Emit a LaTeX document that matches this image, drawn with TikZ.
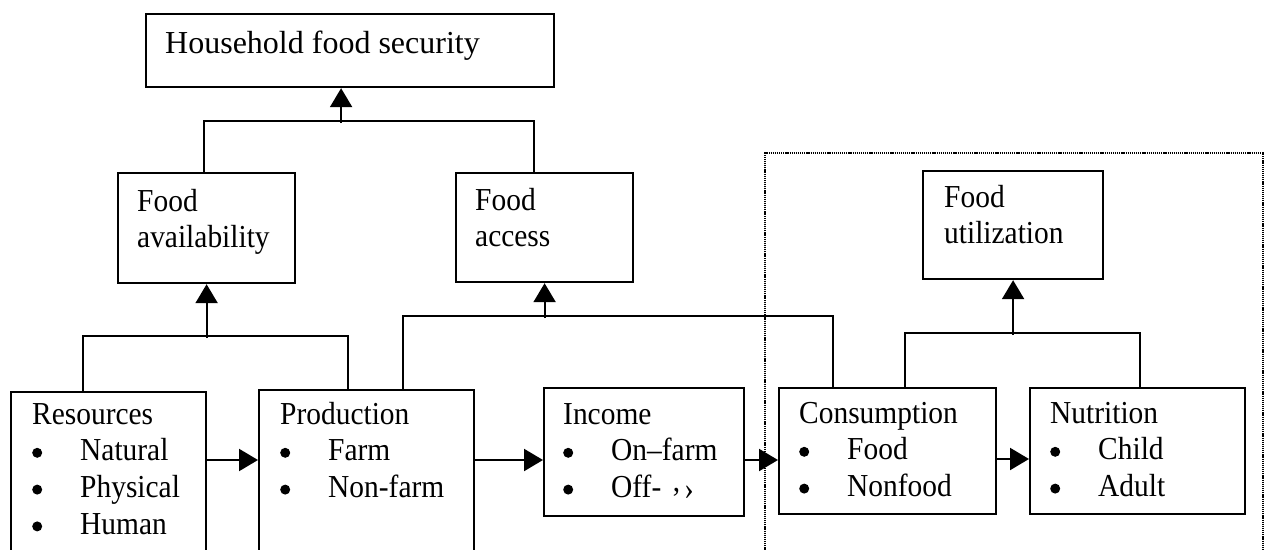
\documentclass[tikz,border=0pt]{standalone}
\usepackage{fontspec}
\setmainfont{Liberation Serif}
\newfontfamily\boxfont[FakeStretch=0.92]{Liberation Serif}
\usetikzlibrary{arrows.meta}
\newcommand\bul{\tikz[baseline=0pt]\fill (0pt,8pt) circle (5pt);}
\newcommand\itm[1]{\makebox[48pt][l]{\bul}#1}
\begin{document}
\begin{tikzpicture}[x=1pt,y=-1pt,
  box/.style={draw,line width=2.2pt,inner sep=0pt,anchor=north west},
  txt/.style={anchor=base west,inner sep=0pt,font=\boxfont\fontsize{32}{36.8}\selectfont},
  line/.style={line width=2.2pt},
  arr/.style={line width=2.2pt,-{Triangle[length=19pt,width=22pt]}},
  frame/.style={line width=2pt,dash pattern=on 1.2pt off 0.9pt}]
\useasboundingbox (0,0) rectangle (1269,549);
\clip (0,0) rectangle (1269,549);
\fill[white] (0,0) rectangle (1269,549);

% dotted frame
\draw[frame] (765,580) |- (1263,153) -- (1263,580);

% boxes
\node[box,minimum width=408pt,minimum height=73pt] (hfs) at (145,13) {};
\node[box,minimum width=177pt,minimum height=110pt] (fa) at (117,172) {};
\node[box,minimum width=177pt,minimum height=109pt] (fac) at (455,172) {};
\node[box,minimum width=180pt,minimum height=108pt] (fu) at (922,170) {};
\node[box,minimum width=195pt,minimum height=179pt] (res) at (10,391) {};
\node[box,minimum width=215pt,minimum height=181pt] (prod) at (258,389) {};
\node[box,minimum width=200pt,minimum height=128pt] (inc) at (543,387) {};
\node[box,minimum width=217pt,minimum height=126pt] (cons) at (778,387) {};
\node[box,minimum width=215pt,minimum height=126pt] (nut) at (1029,387) {};

% texts
\node[txt,font=\rmfamily\fontsize{32}{36.8}\selectfont] (hfst) at (165,53) {Household food security};
\node[txt] (fat) at (137,211) {\begin{tabular}[t]{@{}l@{}}Food\\availability\end{tabular}};
\node[txt] (fact) at (475,210) {\begin{tabular}[t]{@{}l@{}}Food\\access\end{tabular}};
\node[txt] (fut) at (944,207) {\begin{tabular}[t]{@{}l@{}}Food\\utilization\end{tabular}};
\node[txt] (rest) at (32,424) {\begin{tabular}[t]{@{}l@{}}Resources\\\itm{Natural}\\\itm{Physical}\\\itm{Human}\end{tabular}};
\node[txt] (prodt) at (280,424) {\begin{tabular}[t]{@{}l@{}}Production\\\itm{Farm}\\\itm{Non-farm}\end{tabular}};
\node[txt] (inct) at (563,424) {\begin{tabular}[t]{@{}l@{}}Income\\\itm{On–farm}\\\itm{Off-\hspace{10pt}\raisebox{-0.36em}{’}\hspace{3pt}\raisebox{-0.05em}{›}}\end{tabular}};
\node[txt] (const) at (799,423) {\begin{tabular}[t]{@{}l@{}}Consumption\\\itm{Food}\\\itm{Nonfood}\end{tabular}};
\node[txt] (nutt) at (1050,423) {\begin{tabular}[t]{@{}l@{}}Nutrition\\\itm{Child}\\\itm{Adult}\end{tabular}};

% household food security junction
\draw[line] ([xshift=-2.5pt]fa.north) -- ++(0,-51) -| ([xshift=-10.5pt]fac.north);
\draw[arr] ([xshift=-9pt,yshift=-35pt]hfs.south) -- ([xshift=-9pt]hfs.south);

% food availability junction
\draw[line] ([xshift=-25.5pt]res.north) -- ++(0,-55) -| ([xshift=-18.5pt]prod.north);
\draw[arr] ([yshift=-54pt]fa.south) -- (fa.south);

% food access junction
\draw[line] ([xshift=36.5pt]prod.north) -- ++(0,-73) -| ([xshift=-54.5pt]cons.north);
\draw[arr] ([yshift=-35pt]fac.south) -- (fac.south);

% food utilization junction
\draw[line] ([xshift=17.5pt]cons.north) -- ++(0,-54) -| ([xshift=2.5pt]nut.north);
\draw[arr] ([yshift=-55pt]fu.south) -- (fu.south);

% horizontal flow
\draw[arr] ([yshift=-69pt]res.north east) -- ([yshift=-71pt]prod.north west);
\draw[arr] ([yshift=-71pt]prod.north east) -- ([yshift=-73pt]inc.north west);
\draw[arr] ([yshift=-73pt]inc.north east) -- ([yshift=-73pt]cons.north west);
\draw[arr] ([yshift=-72pt]cons.north east) -- ([yshift=-72pt]nut.north west);
\end{tikzpicture}
\end{document}
